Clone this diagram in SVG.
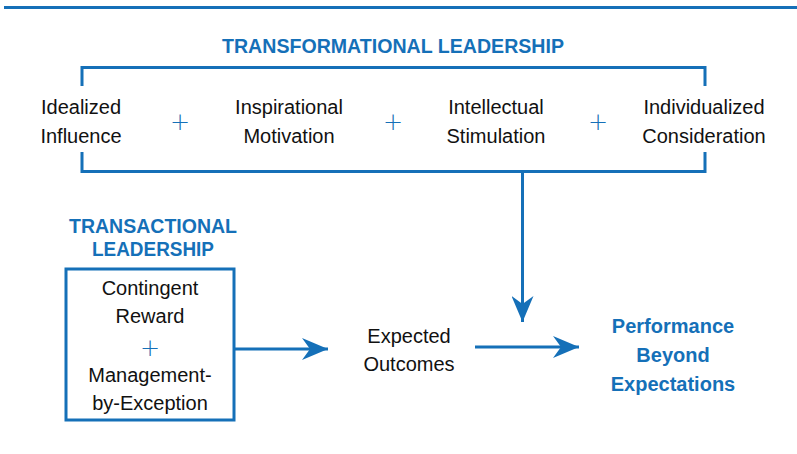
<svg xmlns="http://www.w3.org/2000/svg" width="797" height="454" viewBox="0 0 797 454">
<style>
.t{font-family:"Liberation Sans",Arial,sans-serif;font-size:20px;fill:#111;text-anchor:middle}
.h{font-family:"Liberation Sans",Arial,sans-serif;font-size:20px;font-weight:bold;fill:#1570b8;text-anchor:middle}
.p{font-family:"DejaVu Sans",sans-serif;font-weight:200;font-size:24px;fill:#1570b8;text-anchor:middle}
.ln{fill:none;stroke:#1570b8;stroke-width:3}
</style>
<defs>
<marker id="ah" markerWidth="26" markerHeight="22" refX="26" refY="11" orient="auto" markerUnits="userSpaceOnUse">
<path d="M0,0 L26,11 L0,22 L8,11 Z" fill="#1570b8"/>
</marker>
</defs>
<rect x="4" y="6" width="793" height="3" fill="#1570b8"/>
<g id="transformational">
<text class="h" x="393" y="53" textLength="342" lengthAdjust="spacingAndGlyphs">TRANSFORMATIONAL LEADERSHIP</text>
<path class="ln" d="M82,86 V67.5 H705 V86"/>
<path class="ln" d="M82,152 V171.5 H705 V152"/>
</g>
<g id="idealized"><text class="t" x="81" y="114">Idealized</text><text class="t" x="81" y="143">Influence</text></g>
<text class="p" x="180" y="130">+</text>
<g id="inspirational"><text class="t" x="289" y="114">Inspirational</text><text class="t" x="289" y="143">Motivation</text></g>
<text class="p" x="393" y="130">+</text>
<g id="intellectual"><text class="t" x="496" y="114">Intellectual</text><text class="t" x="496" y="143">Stimulation</text></g>
<text class="p" x="598" y="130">+</text>
<g id="individualized"><text class="t" x="704" y="114">Individualized</text><text class="t" x="704" y="143">Consideration</text></g>
<g id="transactional">
<text class="h" x="153" y="233" textLength="168" lengthAdjust="spacingAndGlyphs">TRANSACTIONAL</text>
<text class="h" x="153" y="256" textLength="122" lengthAdjust="spacingAndGlyphs">LEADERSHIP</text>
<rect class="ln" x="66" y="269" width="168" height="151"/>
<text class="t" x="150" y="295">Contingent</text>
<text class="t" x="150" y="323">Reward</text>
<text class="p" x="150" y="356">+</text>
<text class="t" x="150" y="382">Management-</text>
<text class="t" x="150" y="410">by-Exception</text>
</g>
<g id="expected"><text class="t" x="409" y="343">Expected</text><text class="t" x="409" y="371">Outcomes</text></g>
<g id="performance">
<text class="h" x="673" y="333">Performance</text>
<text class="h" x="673" y="362">Beyond</text>
<text class="h" x="673" y="391">Expectations</text>
</g>
<g id="connectors">
<path class="ln" d="M235,349 H328" marker-end="url(#ah)"/>
<path class="ln" d="M475,347 H579" marker-end="url(#ah)"/>
<path class="ln" d="M522.5,172 V322" marker-end="url(#ah)"/>
</g>
</svg>
